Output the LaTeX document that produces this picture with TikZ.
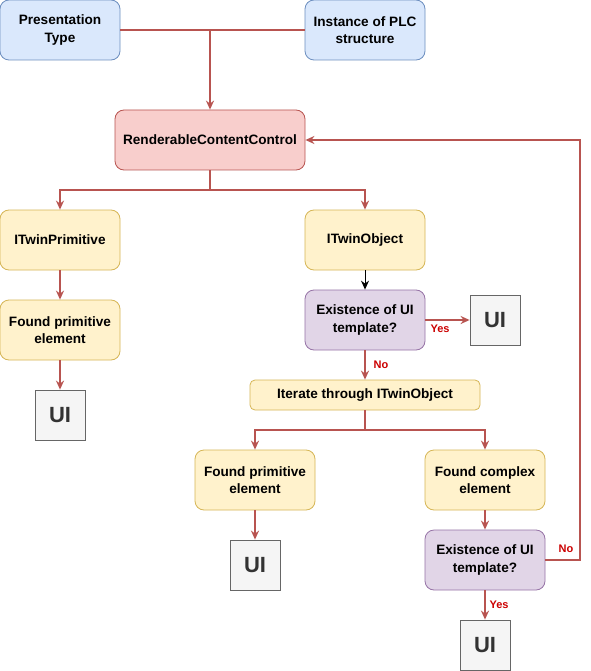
\documentclass[tikz,border=0pt]{standalone}
\usepackage{fontspec}
\setmainfont{Liberation Sans}
\usetikzlibrary{arrows.meta}
\definecolor{bluef}{HTML}{DAE8FC}\definecolor{bluel}{HTML}{6C8EBF}
\definecolor{redf}{HTML}{F8CECC}\definecolor{redl}{HTML}{B85450}
\definecolor{yelf}{HTML}{FFF2CC}\definecolor{yell}{HTML}{D6B656}
\definecolor{purf}{HTML}{E1D5E7}\definecolor{purl}{HTML}{9673A6}
\definecolor{grayf}{HTML}{F5F5F5}\definecolor{grayl}{HTML}{666666}
\definecolor{uitext}{HTML}{333333}\definecolor{labred}{HTML}{CC0000}
\begin{document}
\begin{tikzpicture}[x=1pt,y=-1pt,
  box/.style={rounded corners=9pt, draw, line width=0.8pt, align=center,
    font=\bfseries\fontsize{13.6}{17.5}\selectfont, minimum width=120pt, minimum height=60pt, inner sep=0pt},
  bluebox/.style={box, fill=bluef, draw=bluel},
  redbox/.style={box, fill=redf, draw=redl},
  yelbox/.style={box, fill=yelf, draw=yell},
  purbox/.style={box, fill=purf, draw=purl},
  uibox/.style={draw=grayl, fill=grayf, line width=0.8pt, minimum width=50pt, minimum height=50pt,
    inner sep=0pt, text=uitext, font=\bfseries\fontsize{22}{24}\selectfont},
  redline/.style={draw=redl, line width=1.6pt},
  redarrow/.style={redline, -{Stealth[length=9pt,width=8pt,inset=3pt]}},
  lab/.style={text=labred, font=\bfseries\fontsize{11}{13}\selectfont, inner sep=0pt}
]
\useasboundingbox[fill=white] (0,0) rectangle (590,671);
\node[bluebox] (pt) at (60,30) {Presentation\\Type};
\node[bluebox] (plc) at (365,30) {Instance of PLC\\structure};
\node[redbox, minimum width=190pt] (rcc) at (210,140) {RenderableContentControl};
\node[yelbox] (prim) at (60,240) {ITwinPrimitive};
\node[yelbox] (obj) at (365,240) {ITwinObject};
\node[yelbox] (fprim1) at (60,330) {Found primitive\\element};
\node[uibox] (ui1) at (60,415) {UI};
\node[purbox] (ex1) at (365,320) {Existence of UI\\template?};
\node[uibox] (ui2) at (495,320) {UI};
\node[yelbox, minimum width=230pt, minimum height=30pt, rounded corners=5pt] (iter) at (365,395) {Iterate through ITwinObject};
\node[yelbox] (fprim2) at (255,480) {Found primitive\\element};
\node[yelbox] (fcomp) at (485,480) {Found complex\\element};
\node[uibox] (ui3) at (255,565) {UI};
\node[purbox] (ex2) at (485,560) {Existence of UI\\template?};
\node[uibox] (ui4) at (485,645) {UI};

\coordinate (j1) at (210,30);
\coordinate (j2) at (210,190);
\coordinate (j3) at (365,430);
\coordinate (j4) at (580,560);

\draw[redline] (pt.east) -- (j1);
\draw[redline] (plc.west) -- (j1);
\draw[redarrow] (j1) -- (rcc.north);
\draw[redline] (rcc.south) -- (j2);
\draw[redarrow] (j2) -| (prim.north);
\draw[redarrow] (j2) -| (obj.north);
\draw[redarrow] (prim) -- (fprim1);
\draw[redarrow] (fprim1) -- (ui1);
\draw[line width=1pt, -{Stealth[length=9pt,width=8pt,inset=3pt]}] (obj) -- (ex1);
\draw[redarrow] (ex1) -- (ui2);
\draw[redarrow] (ex1) -- (iter);
\draw[redline] (iter.south) -- (j3);
\draw[redarrow] (j3) -| (fprim2.north);
\draw[redarrow] (j3) -| (fcomp.north);
\draw[redarrow] (fprim2) -- (ui3);
\draw[redarrow] (fcomp) -- (ex2);
\draw[redarrow] (ex2) -- (ui4);
\draw[redarrow] (ex2.east) -- (j4) |- (rcc.east);

\node[lab] (yes1) at (440,329) {Yes};
\node[lab] (no1) at (381,365) {No};
\node[lab] (no2) at (566,549) {No};
\node[lab] (yes2) at (499,605) {Yes};
\end{tikzpicture}
\end{document}
